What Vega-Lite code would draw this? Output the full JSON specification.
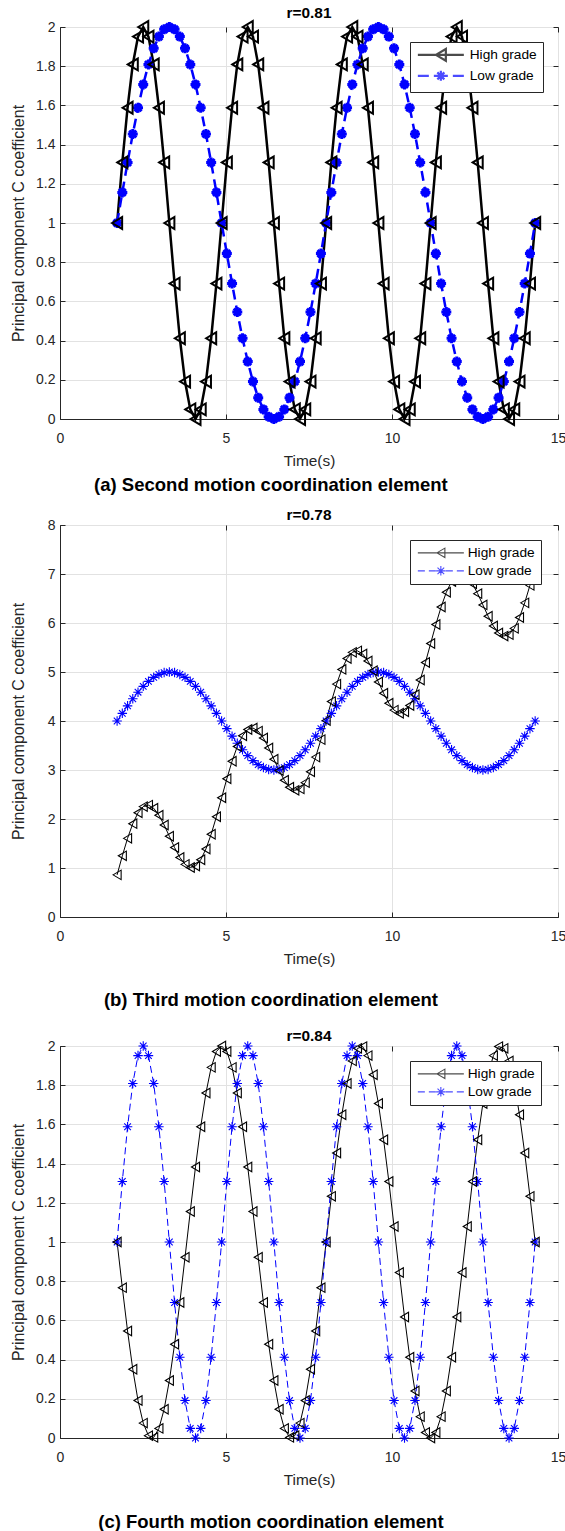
{
"$schema": "https://vega.github.io/schema/vega-lite/v6.json",
"background": "white",
"padding": {"left": 9, "top": 5, "right": 5, "bottom": 2},
"spacing": 12,
"resolve": {"scale": {"shape": "independent", "color": "independent"}, "legend": {"shape": "independent", "color": "independent"}},
"config": {
  "view": {"stroke": "#262626", "strokeWidth": 1},
  "font": "Liberation Sans",
  "axis": {"grid": true, "gridColor": "#e2e2e2", "tickSize": -5, "tickColor": "#262626", "domainColor": "#262626", "labelFontSize": 14, "titleFontSize": 15.4, "titleFontWeight": "normal", "labelColor": "#262626", "titleColor": "#262626", "labelFont": "Liberation Sans", "titleFont": "Liberation Sans", "labelFlush": false, "labelOverlap": false},
  "axisX": {"labelPadding": 17, "titlePadding": 8},
  "axisY": {"labelPadding": 10, "titleFontSize": 16}
},
"datasets": {
"a": [
{"t":1.72,"v":1,"g":"High grade"},{"t":1.877,"v":1.309,"g":"High grade"},{"t":2.035,"v":1.588,"g":"High grade"},{"t":2.192,"v":1.809,"g":"High grade"},{"t":2.35,"v":1.951,"g":"High grade"},{"t":2.507,"v":2,"g":"High grade"},{"t":2.664,"v":1.951,"g":"High grade"},{"t":2.822,"v":1.809,"g":"High grade"},{"t":2.979,"v":1.588,"g":"High grade"},{"t":3.137,"v":1.309,"g":"High grade"},
{"t":3.294,"v":1,"g":"High grade"},{"t":3.451,"v":0.691,"g":"High grade"},{"t":3.609,"v":0.412,"g":"High grade"},{"t":3.766,"v":0.191,"g":"High grade"},{"t":3.924,"v":0.049,"g":"High grade"},{"t":4.081,"v":0,"g":"High grade"},{"t":4.238,"v":0.049,"g":"High grade"},{"t":4.396,"v":0.191,"g":"High grade"},{"t":4.553,"v":0.412,"g":"High grade"},{"t":4.711,"v":0.691,"g":"High grade"},
{"t":4.868,"v":1,"g":"High grade"},{"t":5.025,"v":1.309,"g":"High grade"},{"t":5.183,"v":1.588,"g":"High grade"},{"t":5.34,"v":1.809,"g":"High grade"},{"t":5.498,"v":1.951,"g":"High grade"},{"t":5.655,"v":2,"g":"High grade"},{"t":5.812,"v":1.951,"g":"High grade"},{"t":5.97,"v":1.809,"g":"High grade"},{"t":6.127,"v":1.588,"g":"High grade"},{"t":6.285,"v":1.309,"g":"High grade"},
{"t":6.442,"v":1,"g":"High grade"},{"t":6.599,"v":0.691,"g":"High grade"},{"t":6.757,"v":0.412,"g":"High grade"},{"t":6.914,"v":0.191,"g":"High grade"},{"t":7.072,"v":0.049,"g":"High grade"},{"t":7.229,"v":0,"g":"High grade"},{"t":7.386,"v":0.049,"g":"High grade"},{"t":7.544,"v":0.191,"g":"High grade"},{"t":7.701,"v":0.412,"g":"High grade"},{"t":7.859,"v":0.691,"g":"High grade"},
{"t":8.016,"v":1,"g":"High grade"},{"t":8.173,"v":1.309,"g":"High grade"},{"t":8.331,"v":1.588,"g":"High grade"},{"t":8.488,"v":1.809,"g":"High grade"},{"t":8.646,"v":1.951,"g":"High grade"},{"t":8.803,"v":2,"g":"High grade"},{"t":8.96,"v":1.951,"g":"High grade"},{"t":9.118,"v":1.809,"g":"High grade"},{"t":9.275,"v":1.588,"g":"High grade"},{"t":9.433,"v":1.309,"g":"High grade"},
{"t":9.59,"v":1,"g":"High grade"},{"t":9.747,"v":0.691,"g":"High grade"},{"t":9.905,"v":0.412,"g":"High grade"},{"t":10.062,"v":0.191,"g":"High grade"},{"t":10.22,"v":0.049,"g":"High grade"},{"t":10.377,"v":0,"g":"High grade"},{"t":10.534,"v":0.049,"g":"High grade"},{"t":10.692,"v":0.191,"g":"High grade"},{"t":10.849,"v":0.412,"g":"High grade"},{"t":11.007,"v":0.691,"g":"High grade"},
{"t":11.164,"v":1,"g":"High grade"},{"t":11.321,"v":1.309,"g":"High grade"},{"t":11.479,"v":1.588,"g":"High grade"},{"t":11.636,"v":1.809,"g":"High grade"},{"t":11.794,"v":1.951,"g":"High grade"},{"t":11.951,"v":2,"g":"High grade"},{"t":12.108,"v":1.951,"g":"High grade"},{"t":12.266,"v":1.809,"g":"High grade"},{"t":12.423,"v":1.588,"g":"High grade"},{"t":12.581,"v":1.309,"g":"High grade"},
{"t":12.738,"v":1,"g":"High grade"},{"t":12.895,"v":0.691,"g":"High grade"},{"t":13.053,"v":0.412,"g":"High grade"},{"t":13.21,"v":0.191,"g":"High grade"},{"t":13.368,"v":0.049,"g":"High grade"},{"t":13.525,"v":0,"g":"High grade"},{"t":13.682,"v":0.049,"g":"High grade"},{"t":13.84,"v":0.191,"g":"High grade"},{"t":13.997,"v":0.412,"g":"High grade"},{"t":14.155,"v":0.691,"g":"High grade"},
{"t":14.312,"v":1,"g":"High grade"},
{"t":1.72,"v":1,"g":"Low grade"},{"t":1.877,"v":1.156,"g":"Low grade"},{"t":2.035,"v":1.309,"g":"Low grade"},{"t":2.192,"v":1.454,"g":"Low grade"},{"t":2.35,"v":1.588,"g":"Low grade"},{"t":2.507,"v":1.707,"g":"Low grade"},{"t":2.664,"v":1.809,"g":"Low grade"},{"t":2.822,"v":1.891,"g":"Low grade"},{"t":2.979,"v":1.951,"g":"Low grade"},{"t":3.137,"v":1.988,"g":"Low grade"},
{"t":3.294,"v":2,"g":"Low grade"},{"t":3.451,"v":1.988,"g":"Low grade"},{"t":3.609,"v":1.951,"g":"Low grade"},{"t":3.766,"v":1.891,"g":"Low grade"},{"t":3.924,"v":1.809,"g":"Low grade"},{"t":4.081,"v":1.707,"g":"Low grade"},{"t":4.238,"v":1.588,"g":"Low grade"},{"t":4.396,"v":1.454,"g":"Low grade"},{"t":4.553,"v":1.309,"g":"Low grade"},{"t":4.711,"v":1.156,"g":"Low grade"},
{"t":4.868,"v":1,"g":"Low grade"},{"t":5.025,"v":0.844,"g":"Low grade"},{"t":5.183,"v":0.691,"g":"Low grade"},{"t":5.34,"v":0.546,"g":"Low grade"},{"t":5.498,"v":0.412,"g":"Low grade"},{"t":5.655,"v":0.293,"g":"Low grade"},{"t":5.812,"v":0.191,"g":"Low grade"},{"t":5.97,"v":0.109,"g":"Low grade"},{"t":6.127,"v":0.049,"g":"Low grade"},{"t":6.285,"v":0.012,"g":"Low grade"},
{"t":6.442,"v":0,"g":"Low grade"},{"t":6.599,"v":0.012,"g":"Low grade"},{"t":6.757,"v":0.049,"g":"Low grade"},{"t":6.914,"v":0.109,"g":"Low grade"},{"t":7.072,"v":0.191,"g":"Low grade"},{"t":7.229,"v":0.293,"g":"Low grade"},{"t":7.386,"v":0.412,"g":"Low grade"},{"t":7.544,"v":0.546,"g":"Low grade"},{"t":7.701,"v":0.691,"g":"Low grade"},{"t":7.859,"v":0.844,"g":"Low grade"},
{"t":8.016,"v":1,"g":"Low grade"},{"t":8.173,"v":1.156,"g":"Low grade"},{"t":8.331,"v":1.309,"g":"Low grade"},{"t":8.488,"v":1.454,"g":"Low grade"},{"t":8.646,"v":1.588,"g":"Low grade"},{"t":8.803,"v":1.707,"g":"Low grade"},{"t":8.96,"v":1.809,"g":"Low grade"},{"t":9.118,"v":1.891,"g":"Low grade"},{"t":9.275,"v":1.951,"g":"Low grade"},{"t":9.433,"v":1.988,"g":"Low grade"},
{"t":9.59,"v":2,"g":"Low grade"},{"t":9.747,"v":1.988,"g":"Low grade"},{"t":9.905,"v":1.951,"g":"Low grade"},{"t":10.062,"v":1.891,"g":"Low grade"},{"t":10.22,"v":1.809,"g":"Low grade"},{"t":10.377,"v":1.707,"g":"Low grade"},{"t":10.534,"v":1.588,"g":"Low grade"},{"t":10.692,"v":1.454,"g":"Low grade"},{"t":10.849,"v":1.309,"g":"Low grade"},{"t":11.007,"v":1.156,"g":"Low grade"},
{"t":11.164,"v":1,"g":"Low grade"},{"t":11.321,"v":0.844,"g":"Low grade"},{"t":11.479,"v":0.691,"g":"Low grade"},{"t":11.636,"v":0.546,"g":"Low grade"},{"t":11.794,"v":0.412,"g":"Low grade"},{"t":11.951,"v":0.293,"g":"Low grade"},{"t":12.108,"v":0.191,"g":"Low grade"},{"t":12.266,"v":0.109,"g":"Low grade"},{"t":12.423,"v":0.049,"g":"Low grade"},{"t":12.581,"v":0.012,"g":"Low grade"},
{"t":12.738,"v":0,"g":"Low grade"},{"t":12.895,"v":0.012,"g":"Low grade"},{"t":13.053,"v":0.049,"g":"Low grade"},{"t":13.21,"v":0.109,"g":"Low grade"},{"t":13.368,"v":0.191,"g":"Low grade"},{"t":13.525,"v":0.293,"g":"Low grade"},{"t":13.682,"v":0.412,"g":"Low grade"},{"t":13.84,"v":0.546,"g":"Low grade"},{"t":13.997,"v":0.691,"g":"Low grade"},{"t":14.155,"v":0.844,"g":"Low grade"},
{"t":14.312,"v":1,"g":"Low grade"}
],
"b": [
{"t":1.72,"v":0.86,"g":"High grade"},{"t":1.877,"v":1.248,"g":"High grade"},{"t":2.035,"v":1.605,"g":"High grade"},{"t":2.192,"v":1.905,"g":"High grade"},{"t":2.35,"v":2.126,"g":"High grade"},{"t":2.507,"v":2.253,"g":"High grade"},{"t":2.664,"v":2.283,"g":"High grade"},{"t":2.822,"v":2.22,"g":"High grade"},{"t":2.979,"v":2.078,"g":"High grade"},{"t":3.137,"v":1.877,"g":"High grade"},
{"t":3.294,"v":1.647,"g":"High grade"},{"t":3.451,"v":1.417,"g":"High grade"},{"t":3.609,"v":1.216,"g":"High grade"},{"t":3.766,"v":1.074,"g":"High grade"},{"t":3.924,"v":1.011,"g":"High grade"},{"t":4.081,"v":1.04,"g":"High grade"},{"t":4.238,"v":1.168,"g":"High grade"},{"t":4.396,"v":1.389,"g":"High grade"},{"t":4.553,"v":1.689,"g":"High grade"},{"t":4.711,"v":2.046,"g":"High grade"},
{"t":4.868,"v":2.434,"g":"High grade"},{"t":5.025,"v":2.822,"g":"High grade"},{"t":5.183,"v":3.179,"g":"High grade"},{"t":5.34,"v":3.479,"g":"High grade"},{"t":5.498,"v":3.7,"g":"High grade"},{"t":5.655,"v":3.828,"g":"High grade"},{"t":5.812,"v":3.857,"g":"High grade"},{"t":5.97,"v":3.794,"g":"High grade"},{"t":6.127,"v":3.652,"g":"High grade"},{"t":6.285,"v":3.451,"g":"High grade"},
{"t":6.442,"v":3.221,"g":"High grade"},{"t":6.599,"v":2.991,"g":"High grade"},{"t":6.757,"v":2.79,"g":"High grade"},{"t":6.914,"v":2.648,"g":"High grade"},{"t":7.072,"v":2.585,"g":"High grade"},{"t":7.229,"v":2.614,"g":"High grade"},{"t":7.386,"v":2.742,"g":"High grade"},{"t":7.544,"v":2.963,"g":"High grade"},{"t":7.701,"v":3.263,"g":"High grade"},{"t":7.859,"v":3.62,"g":"High grade"},
{"t":8.016,"v":4.008,"g":"High grade"},{"t":8.173,"v":4.396,"g":"High grade"},{"t":8.331,"v":4.753,"g":"High grade"},{"t":8.488,"v":5.053,"g":"High grade"},{"t":8.646,"v":5.274,"g":"High grade"},{"t":8.803,"v":5.401,"g":"High grade"},{"t":8.96,"v":5.431,"g":"High grade"},{"t":9.118,"v":5.368,"g":"High grade"},{"t":9.275,"v":5.226,"g":"High grade"},{"t":9.433,"v":5.025,"g":"High grade"},
{"t":9.59,"v":4.795,"g":"High grade"},{"t":9.747,"v":4.565,"g":"High grade"},{"t":9.905,"v":4.364,"g":"High grade"},{"t":10.062,"v":4.222,"g":"High grade"},{"t":10.22,"v":4.159,"g":"High grade"},{"t":10.377,"v":4.188,"g":"High grade"},{"t":10.534,"v":4.316,"g":"High grade"},{"t":10.692,"v":4.537,"g":"High grade"},{"t":10.849,"v":4.837,"g":"High grade"},{"t":11.007,"v":5.194,"g":"High grade"},
{"t":11.164,"v":5.582,"g":"High grade"},{"t":11.321,"v":5.97,"g":"High grade"},{"t":11.479,"v":6.327,"g":"High grade"},{"t":11.636,"v":6.627,"g":"High grade"},{"t":11.794,"v":6.848,"g":"High grade"},{"t":11.951,"v":6.975,"g":"High grade"},{"t":12.108,"v":7.005,"g":"High grade"},{"t":12.266,"v":6.942,"g":"High grade"},{"t":12.423,"v":6.8,"g":"High grade"},{"t":12.581,"v":6.599,"g":"High grade"},
{"t":12.738,"v":6.369,"g":"High grade"},{"t":12.895,"v":6.139,"g":"High grade"},{"t":13.053,"v":5.938,"g":"High grade"},{"t":13.21,"v":5.796,"g":"High grade"},{"t":13.368,"v":5.733,"g":"High grade"},{"t":13.525,"v":5.762,"g":"High grade"},{"t":13.682,"v":5.89,"g":"High grade"},{"t":13.84,"v":6.111,"g":"High grade"},{"t":13.997,"v":6.411,"g":"High grade"},{"t":14.155,"v":6.768,"g":"High grade"},
{"t":14.312,"v":7.156,"g":"High grade"},
{"t":1.72,"v":4,"g":"Low grade"},{"t":1.877,"v":4.156,"g":"Low grade"},{"t":2.035,"v":4.309,"g":"Low grade"},{"t":2.192,"v":4.454,"g":"Low grade"},{"t":2.35,"v":4.588,"g":"Low grade"},{"t":2.507,"v":4.707,"g":"Low grade"},{"t":2.664,"v":4.809,"g":"Low grade"},{"t":2.822,"v":4.891,"g":"Low grade"},{"t":2.979,"v":4.951,"g":"Low grade"},{"t":3.137,"v":4.988,"g":"Low grade"},
{"t":3.294,"v":5,"g":"Low grade"},{"t":3.451,"v":4.988,"g":"Low grade"},{"t":3.609,"v":4.951,"g":"Low grade"},{"t":3.766,"v":4.891,"g":"Low grade"},{"t":3.924,"v":4.809,"g":"Low grade"},{"t":4.081,"v":4.707,"g":"Low grade"},{"t":4.238,"v":4.588,"g":"Low grade"},{"t":4.396,"v":4.454,"g":"Low grade"},{"t":4.553,"v":4.309,"g":"Low grade"},{"t":4.711,"v":4.156,"g":"Low grade"},
{"t":4.868,"v":4,"g":"Low grade"},{"t":5.025,"v":3.844,"g":"Low grade"},{"t":5.183,"v":3.691,"g":"Low grade"},{"t":5.34,"v":3.546,"g":"Low grade"},{"t":5.498,"v":3.412,"g":"Low grade"},{"t":5.655,"v":3.293,"g":"Low grade"},{"t":5.812,"v":3.191,"g":"Low grade"},{"t":5.97,"v":3.109,"g":"Low grade"},{"t":6.127,"v":3.049,"g":"Low grade"},{"t":6.285,"v":3.012,"g":"Low grade"},
{"t":6.442,"v":3,"g":"Low grade"},{"t":6.599,"v":3.012,"g":"Low grade"},{"t":6.757,"v":3.049,"g":"Low grade"},{"t":6.914,"v":3.109,"g":"Low grade"},{"t":7.072,"v":3.191,"g":"Low grade"},{"t":7.229,"v":3.293,"g":"Low grade"},{"t":7.386,"v":3.412,"g":"Low grade"},{"t":7.544,"v":3.546,"g":"Low grade"},{"t":7.701,"v":3.691,"g":"Low grade"},{"t":7.859,"v":3.844,"g":"Low grade"},
{"t":8.016,"v":4,"g":"Low grade"},{"t":8.173,"v":4.156,"g":"Low grade"},{"t":8.331,"v":4.309,"g":"Low grade"},{"t":8.488,"v":4.454,"g":"Low grade"},{"t":8.646,"v":4.588,"g":"Low grade"},{"t":8.803,"v":4.707,"g":"Low grade"},{"t":8.96,"v":4.809,"g":"Low grade"},{"t":9.118,"v":4.891,"g":"Low grade"},{"t":9.275,"v":4.951,"g":"Low grade"},{"t":9.433,"v":4.988,"g":"Low grade"},
{"t":9.59,"v":5,"g":"Low grade"},{"t":9.747,"v":4.988,"g":"Low grade"},{"t":9.905,"v":4.951,"g":"Low grade"},{"t":10.062,"v":4.891,"g":"Low grade"},{"t":10.22,"v":4.809,"g":"Low grade"},{"t":10.377,"v":4.707,"g":"Low grade"},{"t":10.534,"v":4.588,"g":"Low grade"},{"t":10.692,"v":4.454,"g":"Low grade"},{"t":10.849,"v":4.309,"g":"Low grade"},{"t":11.007,"v":4.156,"g":"Low grade"},
{"t":11.164,"v":4,"g":"Low grade"},{"t":11.321,"v":3.844,"g":"Low grade"},{"t":11.479,"v":3.691,"g":"Low grade"},{"t":11.636,"v":3.546,"g":"Low grade"},{"t":11.794,"v":3.412,"g":"Low grade"},{"t":11.951,"v":3.293,"g":"Low grade"},{"t":12.108,"v":3.191,"g":"Low grade"},{"t":12.266,"v":3.109,"g":"Low grade"},{"t":12.423,"v":3.049,"g":"Low grade"},{"t":12.581,"v":3.012,"g":"Low grade"},
{"t":12.738,"v":3,"g":"Low grade"},{"t":12.895,"v":3.012,"g":"Low grade"},{"t":13.053,"v":3.049,"g":"Low grade"},{"t":13.21,"v":3.109,"g":"Low grade"},{"t":13.368,"v":3.191,"g":"Low grade"},{"t":13.525,"v":3.293,"g":"Low grade"},{"t":13.682,"v":3.412,"g":"Low grade"},{"t":13.84,"v":3.546,"g":"Low grade"},{"t":13.997,"v":3.691,"g":"Low grade"},{"t":14.155,"v":3.844,"g":"Low grade"},
{"t":14.312,"v":4,"g":"Low grade"}
],
"c": [
{"t":1.72,"v":1,"g":"High grade"},{"t":1.877,"v":0.767,"g":"High grade"},{"t":2.035,"v":0.546,"g":"High grade"},{"t":2.192,"v":0.351,"g":"High grade"},{"t":2.35,"v":0.191,"g":"High grade"},{"t":2.507,"v":0.076,"g":"High grade"},{"t":2.664,"v":0.012,"g":"High grade"},{"t":2.822,"v":0.003,"g":"High grade"},{"t":2.979,"v":0.049,"g":"High grade"},{"t":3.137,"v":0.147,"g":"High grade"},
{"t":3.294,"v":0.293,"g":"High grade"},{"t":3.451,"v":0.478,"g":"High grade"},{"t":3.609,"v":0.691,"g":"High grade"},{"t":3.766,"v":0.922,"g":"High grade"},{"t":3.924,"v":1.156,"g":"High grade"},{"t":4.081,"v":1.383,"g":"High grade"},{"t":4.238,"v":1.588,"g":"High grade"},{"t":4.396,"v":1.76,"g":"High grade"},{"t":4.553,"v":1.891,"g":"High grade"},{"t":4.711,"v":1.972,"g":"High grade"},
{"t":4.868,"v":2,"g":"High grade"},{"t":5.025,"v":1.972,"g":"High grade"},{"t":5.183,"v":1.891,"g":"High grade"},{"t":5.34,"v":1.76,"g":"High grade"},{"t":5.498,"v":1.588,"g":"High grade"},{"t":5.655,"v":1.383,"g":"High grade"},{"t":5.812,"v":1.156,"g":"High grade"},{"t":5.97,"v":0.922,"g":"High grade"},{"t":6.127,"v":0.691,"g":"High grade"},{"t":6.285,"v":0.478,"g":"High grade"},
{"t":6.442,"v":0.293,"g":"High grade"},{"t":6.599,"v":0.147,"g":"High grade"},{"t":6.757,"v":0.049,"g":"High grade"},{"t":6.914,"v":0.003,"g":"High grade"},{"t":7.072,"v":0.012,"g":"High grade"},{"t":7.229,"v":0.076,"g":"High grade"},{"t":7.386,"v":0.191,"g":"High grade"},{"t":7.544,"v":0.351,"g":"High grade"},{"t":7.701,"v":0.546,"g":"High grade"},{"t":7.859,"v":0.767,"g":"High grade"},
{"t":8.016,"v":1,"g":"High grade"},{"t":8.173,"v":1.233,"g":"High grade"},{"t":8.331,"v":1.454,"g":"High grade"},{"t":8.488,"v":1.649,"g":"High grade"},{"t":8.646,"v":1.809,"g":"High grade"},{"t":8.803,"v":1.924,"g":"High grade"},{"t":8.96,"v":1.988,"g":"High grade"},{"t":9.118,"v":1.997,"g":"High grade"},{"t":9.275,"v":1.951,"g":"High grade"},{"t":9.433,"v":1.853,"g":"High grade"},
{"t":9.59,"v":1.707,"g":"High grade"},{"t":9.747,"v":1.522,"g":"High grade"},{"t":9.905,"v":1.309,"g":"High grade"},{"t":10.062,"v":1.079,"g":"High grade"},{"t":10.22,"v":0.844,"g":"High grade"},{"t":10.377,"v":0.617,"g":"High grade"},{"t":10.534,"v":0.412,"g":"High grade"},{"t":10.692,"v":0.24,"g":"High grade"},{"t":10.849,"v":0.109,"g":"High grade"},{"t":11.007,"v":0.028,"g":"High grade"},
{"t":11.164,"v":0,"g":"High grade"},{"t":11.321,"v":0.028,"g":"High grade"},{"t":11.479,"v":0.109,"g":"High grade"},{"t":11.636,"v":0.24,"g":"High grade"},{"t":11.794,"v":0.412,"g":"High grade"},{"t":11.951,"v":0.617,"g":"High grade"},{"t":12.108,"v":0.844,"g":"High grade"},{"t":12.266,"v":1.079,"g":"High grade"},{"t":12.423,"v":1.309,"g":"High grade"},{"t":12.581,"v":1.522,"g":"High grade"},
{"t":12.738,"v":1.707,"g":"High grade"},{"t":12.895,"v":1.853,"g":"High grade"},{"t":13.053,"v":1.951,"g":"High grade"},{"t":13.21,"v":1.997,"g":"High grade"},{"t":13.368,"v":1.988,"g":"High grade"},{"t":13.525,"v":1.924,"g":"High grade"},{"t":13.682,"v":1.809,"g":"High grade"},{"t":13.84,"v":1.649,"g":"High grade"},{"t":13.997,"v":1.454,"g":"High grade"},{"t":14.155,"v":1.233,"g":"High grade"},
{"t":14.312,"v":1,"g":"High grade"},
{"t":1.72,"v":1,"g":"Low grade"},{"t":1.877,"v":1.309,"g":"Low grade"},{"t":2.035,"v":1.588,"g":"Low grade"},{"t":2.192,"v":1.809,"g":"Low grade"},{"t":2.35,"v":1.951,"g":"Low grade"},{"t":2.507,"v":2,"g":"Low grade"},{"t":2.664,"v":1.951,"g":"Low grade"},{"t":2.822,"v":1.809,"g":"Low grade"},{"t":2.979,"v":1.588,"g":"Low grade"},{"t":3.137,"v":1.309,"g":"Low grade"},
{"t":3.294,"v":1,"g":"Low grade"},{"t":3.451,"v":0.691,"g":"Low grade"},{"t":3.609,"v":0.412,"g":"Low grade"},{"t":3.766,"v":0.191,"g":"Low grade"},{"t":3.924,"v":0.049,"g":"Low grade"},{"t":4.081,"v":0,"g":"Low grade"},{"t":4.238,"v":0.049,"g":"Low grade"},{"t":4.396,"v":0.191,"g":"Low grade"},{"t":4.553,"v":0.412,"g":"Low grade"},{"t":4.711,"v":0.691,"g":"Low grade"},
{"t":4.868,"v":1,"g":"Low grade"},{"t":5.025,"v":1.309,"g":"Low grade"},{"t":5.183,"v":1.588,"g":"Low grade"},{"t":5.34,"v":1.809,"g":"Low grade"},{"t":5.498,"v":1.951,"g":"Low grade"},{"t":5.655,"v":2,"g":"Low grade"},{"t":5.812,"v":1.951,"g":"Low grade"},{"t":5.97,"v":1.809,"g":"Low grade"},{"t":6.127,"v":1.588,"g":"Low grade"},{"t":6.285,"v":1.309,"g":"Low grade"},
{"t":6.442,"v":1,"g":"Low grade"},{"t":6.599,"v":0.691,"g":"Low grade"},{"t":6.757,"v":0.412,"g":"Low grade"},{"t":6.914,"v":0.191,"g":"Low grade"},{"t":7.072,"v":0.049,"g":"Low grade"},{"t":7.229,"v":0,"g":"Low grade"},{"t":7.386,"v":0.049,"g":"Low grade"},{"t":7.544,"v":0.191,"g":"Low grade"},{"t":7.701,"v":0.412,"g":"Low grade"},{"t":7.859,"v":0.691,"g":"Low grade"},
{"t":8.016,"v":1,"g":"Low grade"},{"t":8.173,"v":1.309,"g":"Low grade"},{"t":8.331,"v":1.588,"g":"Low grade"},{"t":8.488,"v":1.809,"g":"Low grade"},{"t":8.646,"v":1.951,"g":"Low grade"},{"t":8.803,"v":2,"g":"Low grade"},{"t":8.96,"v":1.951,"g":"Low grade"},{"t":9.118,"v":1.809,"g":"Low grade"},{"t":9.275,"v":1.588,"g":"Low grade"},{"t":9.433,"v":1.309,"g":"Low grade"},
{"t":9.59,"v":1,"g":"Low grade"},{"t":9.747,"v":0.691,"g":"Low grade"},{"t":9.905,"v":0.412,"g":"Low grade"},{"t":10.062,"v":0.191,"g":"Low grade"},{"t":10.22,"v":0.049,"g":"Low grade"},{"t":10.377,"v":0,"g":"Low grade"},{"t":10.534,"v":0.049,"g":"Low grade"},{"t":10.692,"v":0.191,"g":"Low grade"},{"t":10.849,"v":0.412,"g":"Low grade"},{"t":11.007,"v":0.691,"g":"Low grade"},
{"t":11.164,"v":1,"g":"Low grade"},{"t":11.321,"v":1.309,"g":"Low grade"},{"t":11.479,"v":1.588,"g":"Low grade"},{"t":11.636,"v":1.809,"g":"Low grade"},{"t":11.794,"v":1.951,"g":"Low grade"},{"t":11.951,"v":2,"g":"Low grade"},{"t":12.108,"v":1.951,"g":"Low grade"},{"t":12.266,"v":1.809,"g":"Low grade"},{"t":12.423,"v":1.588,"g":"Low grade"},{"t":12.581,"v":1.309,"g":"Low grade"},
{"t":12.738,"v":1,"g":"Low grade"},{"t":12.895,"v":0.691,"g":"Low grade"},{"t":13.053,"v":0.412,"g":"Low grade"},{"t":13.21,"v":0.191,"g":"Low grade"},{"t":13.368,"v":0.049,"g":"Low grade"},{"t":13.525,"v":0,"g":"Low grade"},{"t":13.682,"v":0.049,"g":"Low grade"},{"t":13.84,"v":0.191,"g":"Low grade"},{"t":13.997,"v":0.412,"g":"Low grade"},{"t":14.155,"v":0.691,"g":"Low grade"},
{"t":14.312,"v":1,"g":"Low grade"}
]
},
"vconcat": [
{
"title": {"text": "(a) Second motion coordination element", "orient": "bottom", "offset": 7, "fontSize": 18.5, "fontWeight": "bold", "color": "#000000", "frame": "bounds", "anchor": "middle", "dx": -17},
"resolve": {"scale": {"shape": "independent", "color": "independent"}, "legend": {"shape": "independent", "color": "independent"}},
"vconcat": [{
  "width": 498, "height": 392,
  "title": {"text": "r=0.81", "offset": -5, "fontSize": 15.4, "fontWeight": "bold", "color": "#000000", "frame": "group", "anchor": "middle"},
  "data": {"name": "a"},
  "layer": [
    {"transform": [{"filter": {"field": "g", "equal": "High grade"}}],
     "mark": {"type": "line", "strokeWidth": 2.5, "color": "#000000", "clip": false},
     "encoding": {
       "x": {"field": "t", "type": "quantitative", "scale": {"domain": [0, 15], "nice": false}, "axis": {"values": [0, 5, 10, 15], "title": "Time(s)", "format": "~g"}},
       "y": {"field": "v", "type": "quantitative", "scale": {"domain": [0, 2], "nice": false}, "axis": {"values": [0, 0.2, 0.4, 0.6, 0.8, 1, 1.2, 1.4, 1.6, 1.8, 2], "title": "Principal component C coefficient", "format": "~g", "titleX": -34, "titleBaseline": "bottom"}}
     }},
    {"transform": [{"filter": {"field": "g", "equal": "Low grade"}}],
     "mark": {"type": "line", "strokeWidth": 2.5, "color": "#0000ff", "strokeDash": [10, 6], "clip": false},
     "encoding": {
       "x": {"field": "t", "type": "quantitative", "axis": null},
       "y": {"field": "v", "type": "quantitative", "axis": null}
     }},
    {"transform": [{"filter": {"field": "g", "equal": "Low grade"}}],
     "mark": {"type": "point", "filled": false, "color": "#0000ff", "strokeWidth": 3, "size": 100, "opacity": 1, "clip": false, "shape": "M0,-1L0,1M-1,0L1,0M-0.7,-0.7L0.7,0.7M-0.7,0.7L0.7,-0.7"},
     "encoding": {
       "x": {"field": "t", "type": "quantitative", "axis": null},
       "y": {"field": "v", "type": "quantitative", "axis": null}
     }},
    {"transform": [{"filter": {"field": "g", "equal": "High grade"}}],
     "mark": {"type": "point", "filled": false, "color": "#000000", "strokeWidth": 2, "size": 140, "opacity": 1, "clip": false, "shape": "M-0.85,0L0.85,-1L0.85,1Z"},
     "encoding": {
       "x": {"field": "t", "type": "quantitative", "axis": {"orient": "top", "values": [0, 5, 10, 15], "labels": false, "domain": false, "grid": false, "title": null}},
       "y": {"field": "v", "type": "quantitative", "axis": {"orient": "right", "values": [0, 0.2, 0.4, 0.6, 0.8, 1, 1.2, 1.4, 1.6, 1.8, 2], "labels": false, "domain": false, "grid": false, "title": null}}
     }},
    {"mark": {"type": "point", "filled": false, "strokeWidth": 2.2, "size": 0, "clip": false},
     "encoding": {
       "x": {"field": "t", "type": "quantitative", "axis": null},
       "y": {"field": "v", "type": "quantitative", "axis": null},
       "color": {"field": "g", "type": "nominal", "scale": {"domain": ["High grade", "Low grade"], "range": ["#000000", "#0000ff"]}},
       "shape": {"field": "g", "type": "nominal", "scale": {"domain": ["High grade", "Low grade"], "range": ["M-4.6,0L4.6,0M-1,0L1,-1.18L1,1.18Z", "M-4.6,0L-2.4,0M-1.4,0L1.4,0M2.4,0L4.6,0M0,-1L0,1M-1,0L1,0M-0.7,-0.7L0.7,0.7M-0.7,0.7L0.7,-0.7"]},
         "legend": {"title": null, "orient": "none", "legendX": 350, "legendY": 15, "fillColor": "white", "strokeColor": "#262626", "padding": 6, "rowPadding": 0, "labelFont": "Liberation Sans", "labelFontSize": 13.7, "labelColor": "#000000", "symbolSize": 100, "symbolStrokeWidth": 2.2, "symbolOffset": 18, "labelOffset": 22, "symbolOpacity": 1}}
     }}
  ],
  "resolve": {"axis": {"x": "independent", "y": "independent"}}
}]
},
{
"title": {"text": "(b) Third motion coordination element", "subtitle": " ", "subtitleFontSize": 6, "subtitlePadding": 0, "orient": "bottom", "offset": 24, "fontSize": 18.5, "fontWeight": "bold", "color": "#000000", "frame": "bounds", "anchor": "middle", "dx": -17},
"resolve": {"scale": {"shape": "independent", "color": "independent"}, "legend": {"shape": "independent", "color": "independent"}},
"vconcat": [{
  "width": 498, "height": 392,
  "title": {"text": "r=0.78", "offset": -5, "fontSize": 15.4, "fontWeight": "bold", "color": "#000000", "frame": "group", "anchor": "middle"},
  "data": {"name": "b"},
  "layer": [
    {"transform": [{"filter": {"field": "g", "equal": "High grade"}}],
     "mark": {"type": "line", "strokeWidth": 1, "color": "#000000", "clip": false},
     "encoding": {
       "x": {"field": "t", "type": "quantitative", "scale": {"domain": [0, 15], "nice": false}, "axis": {"values": [0, 5, 10, 15], "title": "Time(s)", "format": "~g"}},
       "y": {"field": "v", "type": "quantitative", "scale": {"domain": [0, 8], "nice": false}, "axis": {"values": [0, 1, 2, 3, 4, 5, 6, 7, 8], "title": "Principal component C coefficient", "format": "~g", "titleX": -34, "titleBaseline": "bottom"}}
     }},
    {"transform": [{"filter": {"field": "g", "equal": "Low grade"}}],
     "mark": {"type": "line", "strokeWidth": 1, "color": "#0000ff", "strokeDash": [7, 4], "clip": false},
     "encoding": {
       "x": {"field": "t", "type": "quantitative", "axis": null},
       "y": {"field": "v", "type": "quantitative", "axis": null}
     }},
    {"transform": [{"filter": {"field": "g", "equal": "Low grade"}}],
     "mark": {"type": "point", "filled": false, "color": "#0000ff", "strokeWidth": 1.1, "size": 90, "opacity": 1, "clip": false, "shape": "M0,-1L0,1M-1,0L1,0M-0.7,-0.7L0.7,0.7M-0.7,0.7L0.7,-0.7"},
     "encoding": {
       "x": {"field": "t", "type": "quantitative", "axis": null},
       "y": {"field": "v", "type": "quantitative", "axis": null}
     }},
    {"transform": [{"filter": {"field": "g", "equal": "High grade"}}],
     "mark": {"type": "point", "filled": false, "color": "#000000", "strokeWidth": 1.1, "size": 90, "opacity": 1, "clip": false, "shape": "M-0.85,0L0.85,-1L0.85,1Z"},
     "encoding": {
       "x": {"field": "t", "type": "quantitative", "axis": {"orient": "top", "values": [0, 5, 10, 15], "labels": false, "domain": false, "grid": false, "title": null}},
       "y": {"field": "v", "type": "quantitative", "axis": {"orient": "right", "values": [0, 1, 2, 3, 4, 5, 6, 7, 8], "labels": false, "domain": false, "grid": false, "title": null}}
     }},
    {"mark": {"type": "point", "filled": false, "strokeWidth": 1.1, "size": 0, "clip": false},
     "encoding": {
       "x": {"field": "t", "type": "quantitative", "axis": null},
       "y": {"field": "v", "type": "quantitative", "axis": null},
       "color": {"field": "g", "type": "nominal", "scale": {"domain": ["High grade", "Low grade"], "range": ["#000000", "#0000ff"]}},
       "shape": {"field": "g", "type": "nominal", "scale": {"domain": ["High grade", "Low grade"], "range": ["M-4.85,0L4.85,0M-0.85,0L0.85,-1L0.85,1Z", "M-4.85,0L-3.37,0M-2.53,0L-1.05,0M1.05,0L2.53,0M3.37,0L4.85,0M0,-1L0,1M-1,0L1,0M-0.7,-0.7L0.7,0.7M-0.7,0.7L0.7,-0.7"]},
         "legend": {"title": null, "orient": "none", "legendX": 350, "legendY": 15, "fillColor": "white", "strokeColor": "#262626", "padding": 6, "rowPadding": 3, "labelFont": "Liberation Sans", "labelFontSize": 13.7, "labelColor": "#000000", "symbolSize": 90, "symbolStrokeWidth": 1.1, "symbolOffset": 18, "labelOffset": 20, "symbolOpacity": 1}}
     }}
  ],
  "resolve": {"axis": {"x": "independent", "y": "independent"}}
}]
},
{
"title": {"text": "(c) Fourth motion coordination element", "orient": "bottom", "offset": 25, "fontSize": 18.5, "fontWeight": "bold", "color": "#000000", "frame": "bounds", "anchor": "middle", "dx": -17},
"resolve": {"scale": {"shape": "independent", "color": "independent"}, "legend": {"shape": "independent", "color": "independent"}},
"vconcat": [{
  "width": 498, "height": 392,
  "title": {"text": "r=0.84", "offset": -5, "fontSize": 15.4, "fontWeight": "bold", "color": "#000000", "frame": "group", "anchor": "middle"},
  "data": {"name": "c"},
  "layer": [
    {"transform": [{"filter": {"field": "g", "equal": "High grade"}}],
     "mark": {"type": "line", "strokeWidth": 1, "color": "#000000", "clip": false},
     "encoding": {
       "x": {"field": "t", "type": "quantitative", "scale": {"domain": [0, 15], "nice": false}, "axis": {"values": [0, 5, 10, 15], "title": "Time(s)", "format": "~g"}},
       "y": {"field": "v", "type": "quantitative", "scale": {"domain": [0, 2], "nice": false}, "axis": {"values": [0, 0.2, 0.4, 0.6, 0.8, 1, 1.2, 1.4, 1.6, 1.8, 2], "title": "Principal component C coefficient", "format": "~g", "titleX": -34, "titleBaseline": "bottom"}}
     }},
    {"transform": [{"filter": {"field": "g", "equal": "Low grade"}}],
     "mark": {"type": "line", "strokeWidth": 1, "color": "#0000ff", "strokeDash": [7, 4], "clip": false},
     "encoding": {
       "x": {"field": "t", "type": "quantitative", "axis": null},
       "y": {"field": "v", "type": "quantitative", "axis": null}
     }},
    {"transform": [{"filter": {"field": "g", "equal": "Low grade"}}],
     "mark": {"type": "point", "filled": false, "color": "#0000ff", "strokeWidth": 1.1, "size": 90, "opacity": 1, "clip": false, "shape": "M0,-1L0,1M-1,0L1,0M-0.7,-0.7L0.7,0.7M-0.7,0.7L0.7,-0.7"},
     "encoding": {
       "x": {"field": "t", "type": "quantitative", "axis": null},
       "y": {"field": "v", "type": "quantitative", "axis": null}
     }},
    {"transform": [{"filter": {"field": "g", "equal": "High grade"}}],
     "mark": {"type": "point", "filled": false, "color": "#000000", "strokeWidth": 1.1, "size": 90, "opacity": 1, "clip": false, "shape": "M-0.85,0L0.85,-1L0.85,1Z"},
     "encoding": {
       "x": {"field": "t", "type": "quantitative", "axis": {"orient": "top", "values": [0, 5, 10, 15], "labels": false, "domain": false, "grid": false, "title": null}},
       "y": {"field": "v", "type": "quantitative", "axis": {"orient": "right", "values": [0, 0.2, 0.4, 0.6, 0.8, 1, 1.2, 1.4, 1.6, 1.8, 2], "labels": false, "domain": false, "grid": false, "title": null}}
     }},
    {"mark": {"type": "point", "filled": false, "strokeWidth": 1.1, "size": 0, "clip": false},
     "encoding": {
       "x": {"field": "t", "type": "quantitative", "axis": null},
       "y": {"field": "v", "type": "quantitative", "axis": null},
       "color": {"field": "g", "type": "nominal", "scale": {"domain": ["High grade", "Low grade"], "range": ["#000000", "#0000ff"]}},
       "shape": {"field": "g", "type": "nominal", "scale": {"domain": ["High grade", "Low grade"], "range": ["M-4.85,0L4.85,0M-0.85,0L0.85,-1L0.85,1Z", "M-4.85,0L-3.37,0M-2.53,0L-1.05,0M1.05,0L2.53,0M3.37,0L4.85,0M0,-1L0,1M-1,0L1,0M-0.7,-0.7L0.7,0.7M-0.7,0.7L0.7,-0.7"]},
         "legend": {"title": null, "orient": "none", "legendX": 350, "legendY": 15, "fillColor": "white", "strokeColor": "#262626", "padding": 6, "rowPadding": 3, "labelFont": "Liberation Sans", "labelFontSize": 13.7, "labelColor": "#000000", "symbolSize": 90, "symbolStrokeWidth": 1.1, "symbolOffset": 18, "labelOffset": 20, "symbolOpacity": 1}}
     }}
  ],
  "resolve": {"axis": {"x": "independent", "y": "independent"}}
}]
}
]
}
